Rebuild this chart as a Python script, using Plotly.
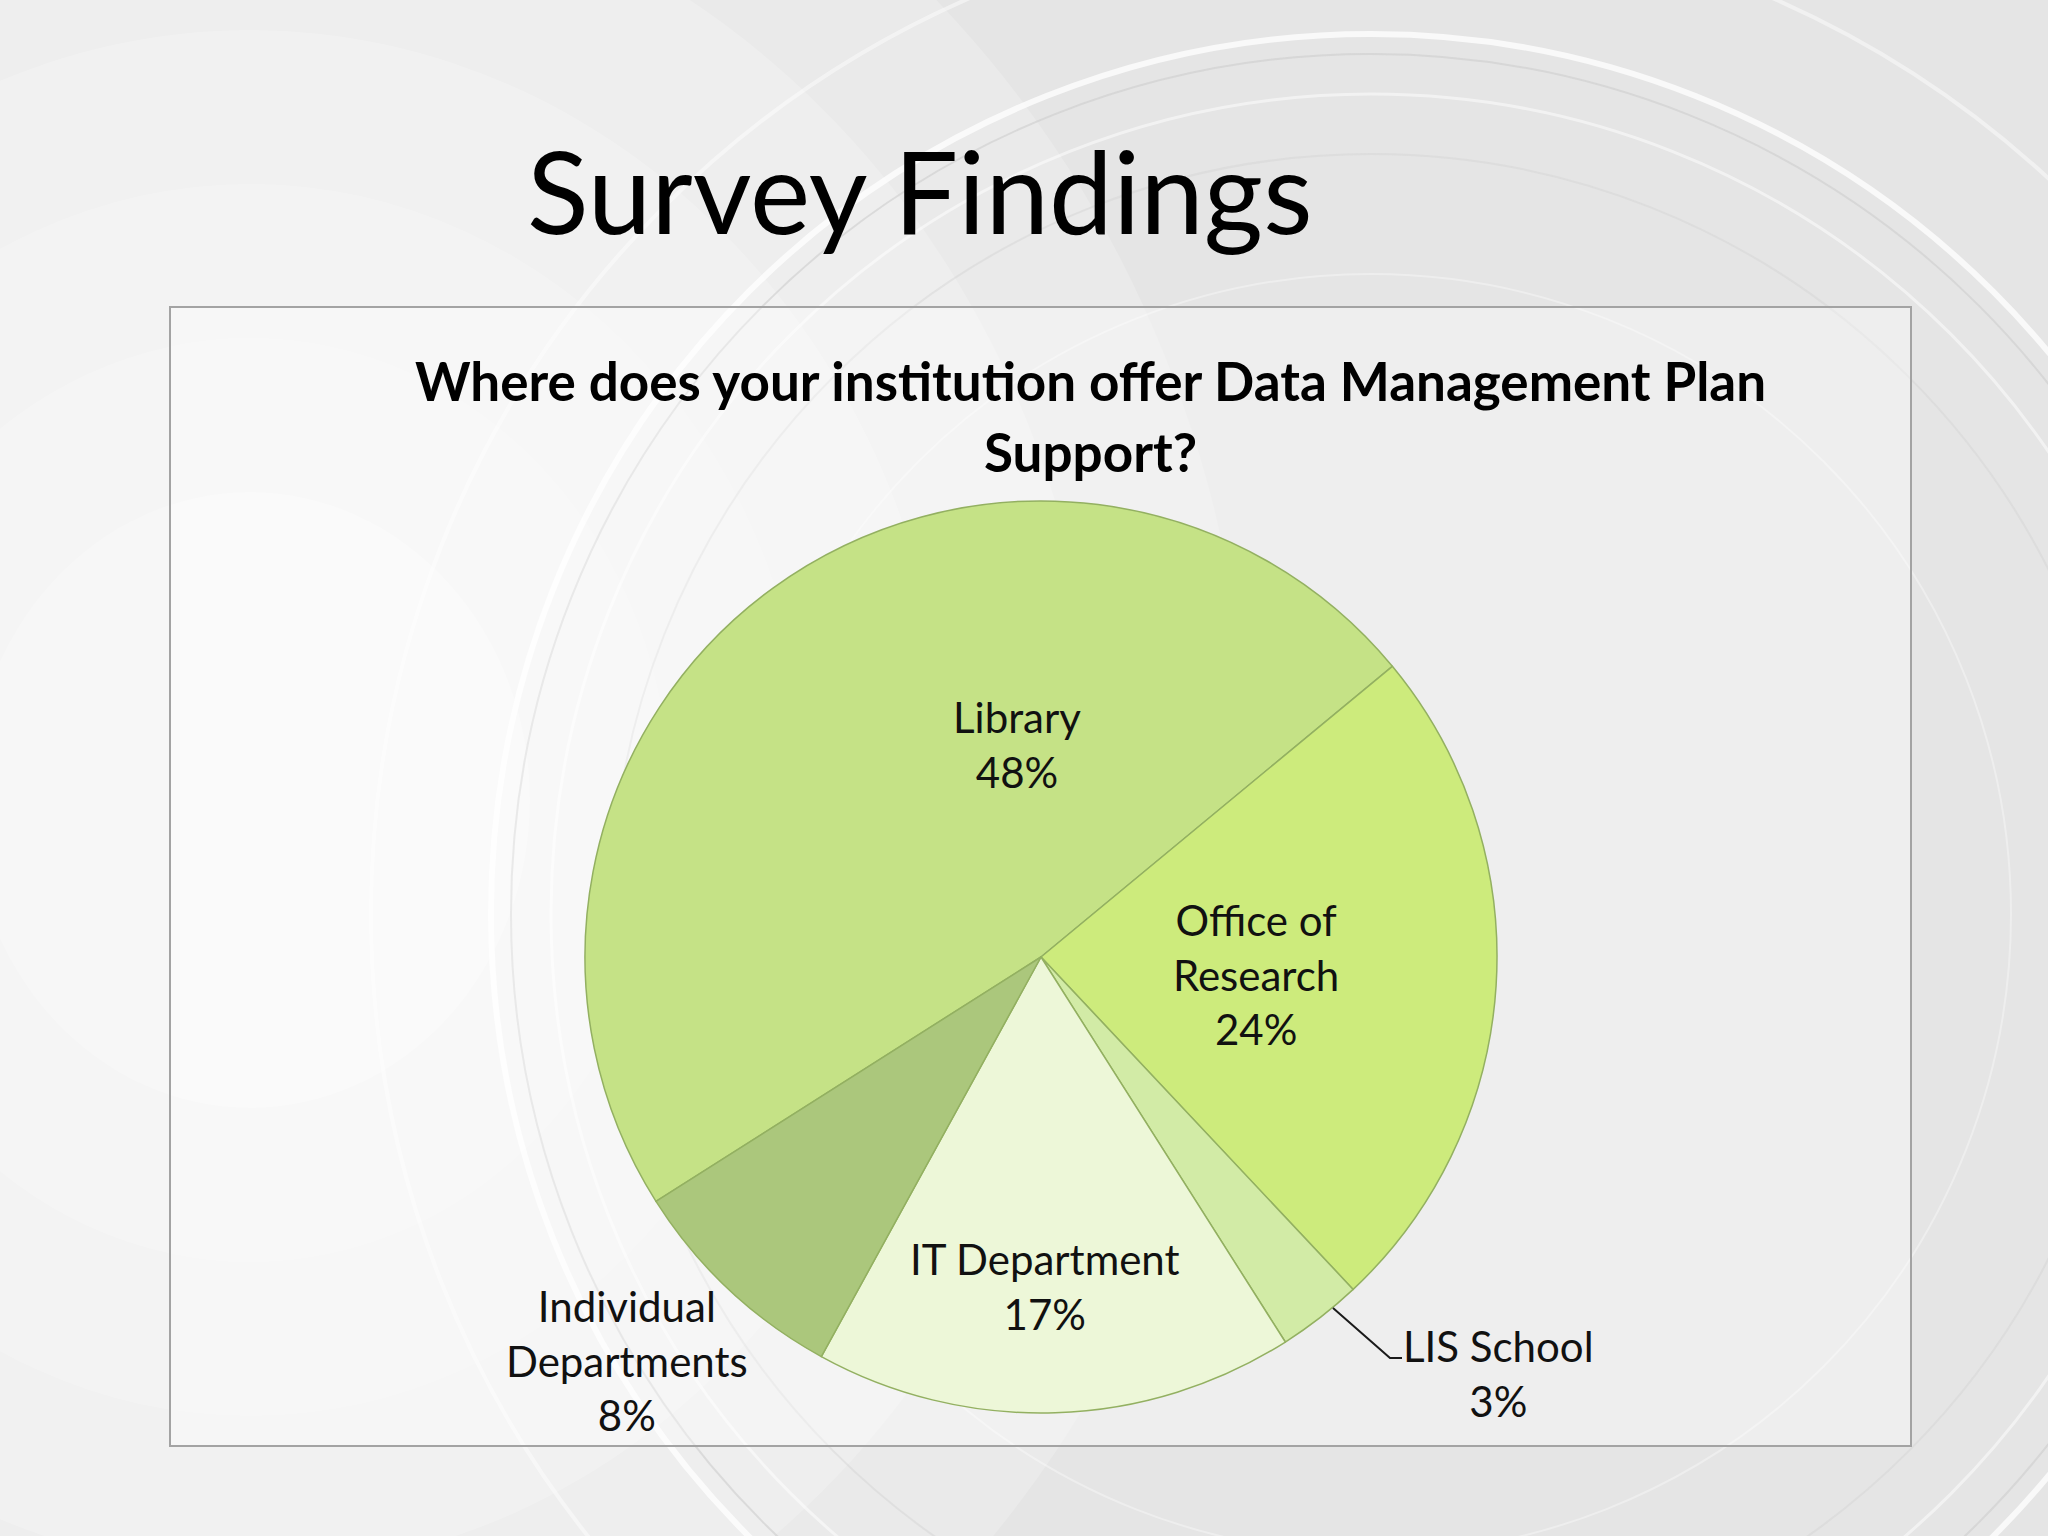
import plotly.graph_objects as go

# ---- data ----
categories = ["Library", "Office of Research", "LIS School", "IT Department", "Individual Departments"]
values = [48, 24, 3, 17, 8]
label_texts = ["Library<br>48%", "Office of<br>Research<br>24%", "LIS School<br>3%",
               "IT Department<br>17%", "Individual<br>Departments<br>8%"]
slice_colors = ["#c5e286", "#cdeb7c", "#d2eba6", "#edf7d8", "#abc77c"]

slide_title = "Survey Findings"
chart_title_1 = "Where does your institution offer Data Management Plan"
chart_title_2 = "Support?"

W, H = 2048, 1536
FONT = "Lato"

def px(x):
    return x / W

def py(y):
    return 1 - y / H

fig = go.Figure()

fig.add_trace(go.Pie(
    labels=categories,
    values=values,
    sort=False,
    direction="clockwise",
    rotation=-122.4,
    textinfo="none",
    hoverinfo="label+percent",
    marker=dict(colors=slice_colors, line=dict(color="#93b061", width=1.5)),
    domain=dict(x=[px(1041 - 456), px(1041 + 456)], y=[py(957 + 456), py(957 - 456)]),
    showlegend=False,
))

shapes = []
# soft light glow on the left side of the slide
for r in [1000, 850, 700, 560, 420, 280]:
    shapes.append(dict(type="circle", xref="paper", yref="paper",
                       x0=px(250 - r), x1=px(250 + r), y0=py(800 + r * 1.1), y1=py(800 - r * 1.1),
                       fillcolor="rgba(255,255,255,0.2)", line=dict(width=0), layer="below"))
# decorative rings
ring_cx, ring_cy = 1371, 914
for r, col, w in [(880, "rgba(255,255,255,0.75)", 6), (860, "rgba(205,205,205,0.6)", 2),
                  (820, "rgba(255,255,255,0.5)", 3), (760, "rgba(210,210,210,0.45)", 2),
                  (1000, "rgba(255,255,255,0.45)", 4), (640, "rgba(255,255,255,0.35)", 2)]:
    shapes.append(dict(type="circle", xref="paper", yref="paper",
                       x0=px(ring_cx - r), x1=px(ring_cx + r), y0=py(ring_cy + r), y1=py(ring_cy - r),
                       fillcolor="rgba(0,0,0,0)", line=dict(color=col, width=w), layer="below"))
# chart frame
shapes.append(dict(type="rect", xref="paper", yref="paper",
                   x0=px(170), x1=px(1911), y0=py(1446), y1=py(307),
                   fillcolor="rgba(255,255,255,0.35)", line=dict(color="#a3a3a3", width=2), layer="below"))
# leader line for LIS School
shapes.append(dict(type="path", xref="paper", yref="paper",
                   path=f"M {px(1333)},{py(1308)} L {px(1390)},{py(1358)} L {px(1402)},{py(1358)}",
                   line=dict(color="#1a1a1a", width=2)))

annotations = [
    dict(text=slide_title, x=px(920), y=py(190), font=dict(family=FONT, size=114, color="#000000")),
    dict(text=f"<b>{chart_title_1}</b>", x=px(1090), y=py(380), font=dict(family=FONT, size=53, color="#000000")),
    dict(text=f"<b>{chart_title_2}</b>", x=px(1090), y=py(451), font=dict(family=FONT, size=53, color="#000000")),
]
label_pos = [(1017, 744), (1256, 974), (1498, 1373), (1045, 1286), (627, 1360)]
for t, (lx, ly) in zip(label_texts, label_pos):
    annotations.append(dict(text=t, x=px(lx), y=py(ly), font=dict(family=FONT, size=42, color="#111111")))

for a in annotations:
    a.update(xref="paper", yref="paper", showarrow=False, xanchor="center", yanchor="middle", align="center")

fig.update_layout(
    width=W, height=H,
    margin=dict(l=0, r=0, t=0, b=0),
    paper_bgcolor="#e5e5e5",
    plot_bgcolor="#e5e5e5",
    shapes=shapes,
    annotations=annotations,
)

fig.write_html("out.html", config={"displayModeBar": False},
               post_script="document.body.style.margin='0px';")
